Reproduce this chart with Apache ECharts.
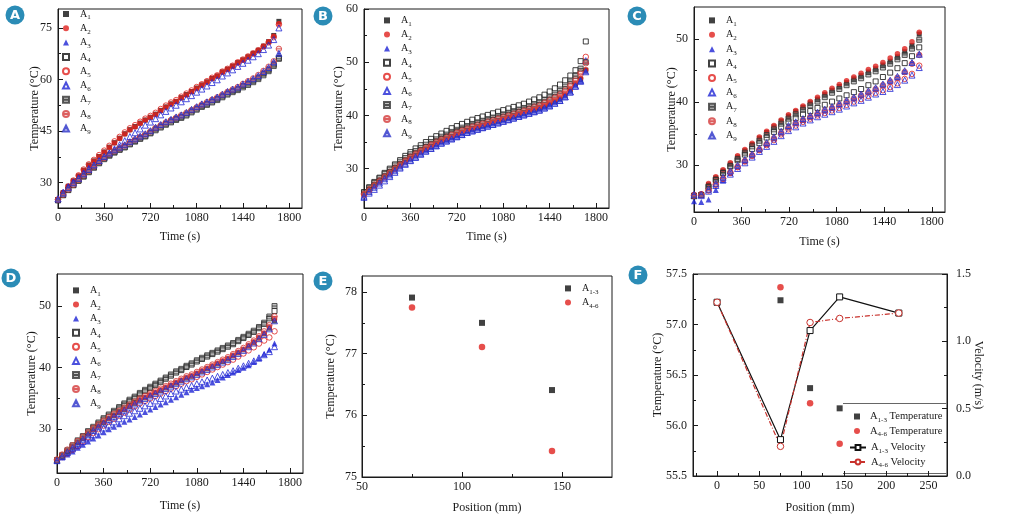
<!DOCTYPE html>
<html>
<head>
<meta charset="utf-8">
<script src="https://cdn.jsdelivr.net/npm/echarts@6.0.0/dist/echarts.min.js"></script>
<style>
  html, body { margin: 0; padding: 0; background: #fff; }
  #chart { width: 1015px; height: 518px; }
</style>
</head>
<body>
<div id="chart"></div>
<script>
// ---- data ----
var names = ['A1', 'A2', 'A3', 'A4', 'A5', 'A6', 'A7', 'A8', 'A9'];

var time40 = [0,40,80,120,160,200,240,280,320,360,400,440,480,520,560,600,640,680,720,760,800,840,880,920,960,1000,1040,1080,1120,1160,1200,1240,1280,1320,1360,1400,1440,1480,1520,1560,1600,1640,1680,1720];
var timeC = [0,55,110,165,220,275,330,385,440,495,550,605,660,715,770,825,880,935,990,1045,1100,1155,1210,1265,1320,1375,1430,1485,1540,1595,1650,1705];
var timeD = [0,40,80,120,160,200,240,280,320,360,400,440,480,520,560,600,640,680,720,760,800,840,880,920,960,1000,1040,1080,1120,1160,1200,1240,1280,1320,1360,1400,1440,1480,1520,1560,1600,1640,1680];

// panel A, one list per sensor A1..A9
var tempA = [
  [25.0,27.1,28.9,30.5,31.9,33.6,35.1,36.3,37.6,38.9,40.3,41.6,42.9,44.2,45.4,46.3,47.3,48.2,49.0,49.9,51.0,52.0,52.9,53.6,54.7,55.6,56.5,57.5,58.4,59.3,60.3,61.0,62.2,63.0,63.9,64.9,65.7,66.6,67.6,68.5,69.7,71.0,72.8,76.9],
  [25.1,27.0,28.8,30.4,31.9,33.5,35.0,36.2,37.5,38.8,40.2,41.5,42.8,44.1,45.3,46.2,47.2,48.1,48.9,49.8,50.9,51.9,52.8,53.6,54.6,55.5,56.4,57.4,58.3,59.2,60.2,61.0,62.1,62.9,63.8,64.8,65.6,66.5,67.5,68.4,69.6,70.9,72.6,76.2],
  [25.4,27.0,28.6,29.9,31.2,32.5,33.7,35.0,36.2,37.4,38.5,39.4,40.2,40.9,41.8,42.6,43.4,44.1,45.0,46.0,46.8,47.6,48.3,49.0,49.6,50.3,51.2,52.0,52.8,53.4,54.1,54.8,55.6,56.4,57.1,57.7,58.6,59.3,60.1,61.0,62.2,63.3,64.9,67.4],
  [24.9,26.4,27.9,29.3,30.6,31.9,33.2,34.5,35.8,37.0,38.0,38.9,39.7,40.4,41.3,42.1,42.9,43.6,44.5,45.5,46.3,47.1,47.8,48.5,49.1,49.8,50.7,51.5,52.3,52.9,53.6,54.3,55.1,55.9,56.6,57.2,58.1,58.8,59.6,60.5,61.7,62.8,64.3,66.2],
  [25.1,27.0,28.9,30.6,32.1,33.8,35.3,36.6,38.0,39.3,40.7,42.0,43.3,44.6,45.8,46.7,47.7,48.6,49.4,50.3,51.4,52.4,53.3,54.0,55.0,55.9,56.8,57.8,58.6,59.5,60.5,61.2,62.3,63.1,64.0,65.0,65.8,66.7,67.6,68.5,69.6,70.8,72.3,76.0],
  [25.3,27.2,28.8,30.2,31.4,32.8,34.1,35.1,36.3,37.4,38.6,39.8,41.0,42.2,43.4,44.5,45.6,46.7,47.6,48.6,49.7,50.7,51.7,52.5,53.5,54.4,55.3,56.3,57.2,58.1,59.1,59.9,61.0,61.9,62.8,63.8,64.7,65.6,66.6,67.5,68.7,70.0,71.6,75.0],
  [24.8,26.3,27.8,29.2,30.5,31.7,33.0,34.3,35.6,36.8,37.8,38.7,39.5,40.2,41.1,41.9,42.7,43.4,44.3,45.2,46.0,46.8,47.5,48.2,48.8,49.5,50.4,51.2,52.0,52.6,53.3,54.0,54.8,55.6,56.3,56.9,57.7,58.4,59.2,60.1,61.2,62.4,63.9,66.0],
  [25.0,26.5,28.0,29.4,30.8,32.1,33.4,34.7,36.0,37.2,38.3,39.2,40.0,40.8,41.7,42.5,43.3,44.0,44.9,45.9,46.7,47.5,48.2,48.9,49.6,50.3,51.1,51.9,52.7,53.4,54.1,54.8,55.6,56.4,57.1,57.8,58.7,59.5,60.3,61.3,62.5,63.7,65.3,68.9],
  [25.2,26.9,28.5,29.9,31.2,32.5,33.8,35.1,36.4,37.6,38.6,39.5,40.3,41.0,41.9,42.7,43.5,44.2,45.1,46.1,46.9,47.7,48.4,49.1,49.7,50.4,51.3,52.1,52.9,53.5,54.2,54.9,55.7,56.5,57.2,57.8,58.7,59.4,60.2,61.1,62.3,63.5,65.1,67.6]
];

var tempB = [
  [25.1,26.0,26.8,27.6,28.4,29.1,29.9,30.6,31.3,31.9,32.5,33.1,33.6,34.1,34.6,35.1,35.5,35.9,36.3,36.7,37.1,37.4,37.7,38.0,38.3,38.6,38.9,39.2,39.5,39.8,40.1,40.4,40.7,41.0,41.3,41.7,42.1,42.6,43.1,43.8,44.8,45.9,46.8,48.5],
  [25.3,26.2,27.0,27.8,28.6,29.3,30.1,30.8,31.5,32.1,32.7,33.3,33.8,34.3,34.8,35.3,35.7,36.1,36.5,36.9,37.3,37.6,37.9,38.2,38.5,38.8,39.1,39.4,39.7,40.0,40.3,40.6,40.9,41.2,41.5,41.9,42.3,42.8,43.3,44.0,44.9,46.0,47.0,48.6],
  [25.0,25.9,26.7,27.5,28.3,29.0,29.8,30.5,31.2,31.8,32.4,33.0,33.5,34.0,34.5,35.0,35.4,35.8,36.2,36.6,37.0,37.3,37.6,37.9,38.2,38.5,38.8,39.1,39.4,39.7,40.0,40.3,40.6,40.9,41.2,41.6,42.0,42.5,43.0,43.7,44.6,45.7,46.5,48.3],
  [25.6,26.5,27.5,28.3,29.2,30.0,30.8,31.6,32.4,33.1,33.8,34.4,35.0,35.6,36.1,36.6,37.1,37.6,38.0,38.4,38.8,39.2,39.5,39.8,40.1,40.4,40.7,41.0,41.3,41.6,41.9,42.2,42.6,43.0,43.4,43.9,44.5,45.1,45.8,46.6,47.5,48.5,50.2,53.9],
  [25.3,26.1,27.0,27.8,28.6,29.4,30.2,30.9,31.6,32.3,32.9,33.5,34.1,34.6,35.1,35.6,36.0,36.5,36.9,37.3,37.6,38.0,38.3,38.6,38.9,39.2,39.5,39.8,40.1,40.4,40.7,41.0,41.3,41.7,42.0,42.5,43.0,43.5,44.1,44.9,45.8,46.8,48.1,51.0],
  [24.6,25.4,26.1,26.9,27.7,28.5,29.3,30.1,30.8,31.5,32.1,32.7,33.3,33.8,34.3,34.8,35.2,35.6,36.0,36.4,36.8,37.1,37.4,37.7,38.0,38.3,38.6,38.9,39.2,39.5,39.8,40.1,40.4,40.7,41.0,41.4,41.8,42.3,42.8,43.5,44.4,45.5,46.6,50.3],
  [25.5,26.4,27.3,28.2,29.0,29.8,30.6,31.3,32.0,32.7,33.3,33.9,34.5,35.0,35.5,36.0,36.4,36.9,37.3,37.7,38.0,38.4,38.7,39.0,39.3,39.6,39.9,40.2,40.5,40.8,41.1,41.4,41.7,42.1,42.4,42.9,43.4,43.9,44.6,45.4,46.4,47.4,48.8,50.0],
  [25.1,25.9,26.8,27.6,28.4,29.2,30.0,30.7,31.4,32.1,32.7,33.3,33.9,34.4,34.9,35.4,35.8,36.3,36.7,37.1,37.4,37.8,38.1,38.4,38.7,39.0,39.3,39.6,39.9,40.2,40.5,40.8,41.1,41.5,41.8,42.3,42.8,43.3,43.9,44.6,45.5,46.5,47.8,49.8],
  [24.8,25.7,26.5,27.3,28.1,28.8,29.6,30.3,31.0,31.6,32.2,32.8,33.3,33.8,34.3,34.8,35.2,35.6,36.0,36.4,36.8,37.1,37.4,37.7,38.0,38.3,38.6,38.9,39.2,39.5,39.8,40.1,40.4,40.7,41.0,41.4,41.8,42.3,42.8,43.5,44.4,45.5,46.4,48.2]
];

var tempC = [
  [25.2,25.3,26.9,28.0,29.1,30.2,31.3,32.3,33.3,34.3,35.2,36.1,37.0,37.8,38.5,39.2,39.9,40.5,41.2,41.9,42.5,43.1,43.7,44.2,44.8,45.3,45.9,46.5,47.2,48.0,49.0,50.8],
  [25.3,25.5,27.1,28.2,29.3,30.4,31.5,32.5,33.5,34.5,35.4,36.3,37.2,38.0,38.7,39.4,40.1,40.8,41.5,42.2,42.8,43.4,44.0,44.6,45.2,45.7,46.3,47.0,47.7,48.5,49.6,51.1],
  [24.3,24.2,24.6,26.1,27.6,28.8,29.8,30.7,31.6,32.5,33.4,34.3,35.2,36.1,36.7,37.2,37.7,38.2,38.7,39.1,39.6,40.1,40.6,41.1,41.6,42.1,42.7,43.3,43.9,44.8,46.3,47.7],
  [25.2,25.3,26.6,27.7,28.8,29.8,30.8,31.7,32.6,33.5,34.4,35.3,36.1,36.9,37.5,38.1,38.6,39.1,39.6,40.1,40.6,41.1,41.6,42.1,42.7,43.3,44.0,44.7,45.4,46.2,47.3,48.7],
  [25.3,25.4,26.1,27.0,27.9,28.8,29.7,30.6,31.5,32.4,33.2,34.0,34.9,35.7,36.3,36.9,37.4,37.9,38.3,38.7,39.1,39.6,40.1,40.5,41.0,41.5,41.9,42.4,43.0,43.7,44.5,45.8],
  [25.2,25.2,25.9,26.8,27.7,28.6,29.5,30.4,31.3,32.2,33.0,33.8,34.7,35.5,36.1,36.7,37.2,37.7,38.1,38.5,38.9,39.4,39.9,40.3,40.8,41.3,41.7,42.2,42.8,43.5,44.3,45.5],
  [25.1,25.3,26.6,27.7,28.8,29.9,31.0,32.0,33.0,33.9,34.8,35.7,36.6,37.4,38.1,38.8,39.5,40.1,40.8,41.5,42.1,42.7,43.3,43.8,44.4,44.9,45.5,46.1,46.8,47.5,48.5,49.9],
  [25.2,25.3,26.0,26.9,27.9,28.9,29.8,30.7,31.6,32.5,33.4,34.3,35.2,36.0,36.7,37.2,37.7,38.2,38.7,39.1,39.6,40.1,40.6,41.1,41.6,42.1,42.7,43.3,43.9,44.8,46.1,47.5],
  [25.4,25.4,26.2,27.1,28.1,29.1,30.0,30.9,31.8,32.7,33.6,34.5,35.4,36.3,36.9,37.4,37.9,38.4,38.9,39.3,39.8,40.3,40.8,41.3,41.8,42.3,42.9,43.5,44.1,45.0,46.3,47.6]
];

var tempD = [
  [25.0,25.7,26.4,27.1,27.8,28.5,29.2,29.9,30.5,31.1,31.7,32.2,32.7,33.2,33.7,34.2,34.7,35.1,35.5,35.9,36.3,36.7,37.1,37.5,37.9,38.3,38.6,39.0,39.4,39.8,40.2,40.6,41.0,41.4,41.9,42.4,42.9,43.5,44.1,44.8,45.5,46.4,47.6],
  [25.1,25.8,26.5,27.2,27.9,28.6,29.3,30.0,30.6,31.2,31.8,32.3,32.8,33.3,33.8,34.3,34.8,35.2,35.6,36.0,36.4,36.8,37.2,37.6,38.0,38.4,38.7,39.1,39.5,39.9,40.3,40.7,41.1,41.5,42.0,42.5,43.0,43.6,44.2,44.9,45.6,46.6,47.9],
  [24.9,25.4,25.9,26.4,27.0,27.5,28.0,28.5,29.0,29.5,30.0,30.4,30.8,31.2,31.6,32.0,32.4,32.8,33.2,33.6,34.0,34.4,34.8,35.2,35.6,36.0,36.4,36.7,37.0,37.3,37.6,38.0,38.4,38.8,39.2,39.6,40.0,40.4,40.9,41.5,42.2,42.9,43.9],
  [24.9,25.6,26.4,27.2,28.0,28.7,29.5,30.2,30.9,31.6,32.2,32.8,33.4,34.0,34.6,35.1,35.7,36.2,36.7,37.2,37.7,38.2,38.7,39.2,39.6,40.1,40.5,41.0,41.4,41.8,42.2,42.6,43.0,43.4,43.8,44.3,44.8,45.3,45.8,46.4,47.1,48.0,49.2],
  [25.0,25.5,26.1,26.7,27.3,28.0,28.7,29.4,30.0,30.6,31.2,31.7,32.2,32.7,33.2,33.7,34.2,34.6,35.0,35.4,35.8,36.2,36.6,37.0,37.4,37.8,38.1,38.5,38.9,39.3,39.7,40.1,40.5,40.9,41.3,41.8,42.3,42.8,43.3,43.9,44.4,44.9,45.9],
  [25.0,25.6,26.2,26.8,27.4,28.0,28.6,29.1,29.7,30.2,30.7,31.2,31.7,32.2,32.6,33.0,33.4,33.8,34.2,34.6,35.0,35.4,35.8,36.2,36.5,36.8,37.1,37.4,37.7,38.0,38.3,38.6,38.9,39.2,39.5,39.9,40.3,40.7,41.1,41.6,42.1,42.6,43.4],
  [25.0,25.8,26.6,27.4,28.2,28.9,29.7,30.4,31.1,31.8,32.4,33.0,33.6,34.2,34.8,35.3,35.9,36.4,36.9,37.4,37.9,38.4,38.9,39.4,39.8,40.3,40.7,41.2,41.6,42.0,42.4,42.8,43.2,43.6,44.0,44.5,45.0,45.5,46.0,46.6,47.3,48.3,50.0],
  [25.1,25.9,26.7,27.4,28.1,28.8,29.5,30.2,30.8,31.4,32.0,32.5,33.0,33.5,34.0,34.5,35.0,35.4,35.8,36.2,36.6,37.0,37.4,37.8,38.2,38.6,38.9,39.3,39.7,40.1,40.5,40.9,41.3,41.7,42.2,42.7,43.2,43.8,44.4,45.1,45.9,46.9,48.3],
  [24.9,25.6,26.3,27.0,27.7,28.4,29.1,29.8,30.4,31.0,31.6,32.1,32.6,33.1,33.6,34.1,34.6,35.0,35.4,35.8,36.2,36.6,37.0,37.4,37.8,38.2,38.5,38.9,39.3,39.7,40.1,40.5,40.9,41.3,41.8,42.3,42.8,43.4,44.0,44.7,45.4,46.3,47.6]
];

// panel E
var posE = [75, 110, 145];
var tempE13 = [77.91, 77.50, 76.41];
var tempE46 = [77.75, 77.11, 75.42];

// panel F
var posFT = [75, 110, 145];
var tempF13 = [57.24, 56.37, 56.17];
var tempF46 = [57.37, 56.22, 55.82];
var posFV = [0, 75, 110, 145, 215];
var velF13 = [1.29, 0.27, 1.08, 1.33, 1.21];
var velF46 = [1.29, 0.22, 1.14, 1.17, 1.21];

// ---- styles ----
var FONT = '"Liberation Serif", "Times New Roman", serif';
var INK = '#1a1a1a';
var RED = '#e0221e', BLUE = '#1e24d4', BLACK = '#111';
var markers = [
  { symbol: 'rect', size: 5, color: BLACK, filled: true },
  { symbol: 'circle', size: 5.5, color: RED, filled: true },
  { symbol: 'triangle', size: 6, color: BLUE, filled: true },
  { symbol: 'rect', size: 5, color: BLACK },
  { symbol: 'circle', size: 5.5, color: RED },
  { symbol: 'triangle', size: 6, color: BLUE },
  { symbol: 'path://M0,0H10V10H0ZM0,5H10', size: 5, color: '#333', fill: 'rgba(120,120,120,0.55)' },
  { symbol: 'path://M0,5A5,5,0,1,1,10,5A5,5,0,1,1,0,5ZM0,5H10', size: 5.5, color: '#d43c3c', fill: 'rgba(230,140,140,0.3)' },
  { symbol: 'path://M5,0L10,10H0ZM2.5,5H7.5', size: 6, color: '#2a32c8', fill: 'rgba(140,140,230,0.3)' }
];

var option = {
  animation: false,
  backgroundColor: '#fff',
  grid: [], xAxis: [], yAxis: [], series: [], legend: [], graphic: []
};

function majorAxis(gi, s) {
  return {
    type: 'value', gridIndex: gi, position: s.pos, min: s.min, max: s.max,
    axisLine: { onZero: false, lineStyle: { color: INK, width: 1 } },
    axisTick: { inside: true, length: 5, customValues: s.major, lineStyle: { color: INK, width: 1 } },
    axisLabel: { customValues: s.major, margin: s.margin, formatter: s.fmt || function (v) { return String(v); },
                 fontFamily: FONT, fontSize: 12, color: INK },
    splitLine: { show: false },
    name: s.name, nameLocation: 'middle', nameGap: s.gap, nameRotate: s.rot || 0, nameMoveOverlap: false,
    nameTextStyle: { fontFamily: FONT, fontSize: 12, color: INK }
  };
}
function minorAxis(gi, s) {
  return {
    type: 'value', gridIndex: gi, position: s.pos, min: s.min, max: s.max,
    axisLine: { show: false, onZero: false },
    axisTick: { inside: true, length: 3, customValues: s.minor, lineStyle: { color: INK, width: 1 } },
    axisLabel: { show: false }, splitLine: { show: false }
  };
}
function addAxis(list, gi, s) {
  var idx = list.length;
  list.push(majorAxis(gi, s), minorAxis(gi, s));
  return idx;
}
function addGrid(g) {
  option.grid.push({ left: g[0], top: g[1], width: g[2], height: g[3], show: true,
                     borderColor: INK, borderWidth: 1, containLabel: false });
  return option.grid.length - 1;
}
function pairs(xs, ys) {
  return xs.map(function (x, i) { return [x, ys[i]]; });
}
// legend text "A" with a subscript; pad = extra space between icon and text
function legendBox(data, left, top, gap, itemWidth, pad, size) {
  var lead = pad ? '{p| }' : '';
  var fs = size || 10;
  return {
    orient: 'vertical', left: left, top: top, padding: 0, itemGap: gap,
    itemWidth: itemWidth, itemHeight: 6, selectedMode: false, data: data,
    formatter: function (name) {
      var m = name.match(/^A([0-9-]+)(.*)$/);
      return lead + '{a|A}{s|' + m[1] + '}' + (m[2] ? '{a|' + m[2] + '}' : '');
    },
    textStyle: { fontFamily: FONT, fontSize: fs, color: INK,
      rich: { p: { width: pad || 0, fontSize: fs, lineHeight: 14 },
              a: { fontFamily: FONT, fontSize: fs, lineHeight: 14, color: INK },
              s: { fontFamily: FONT, fontSize: 7, lineHeight: 8, verticalAlign: 'bottom', color: INK } } }
  };
}

var timeAxis = { min: 0, max: 1900, major: [0, 360, 720, 1080, 1440, 1800], minor: [180, 540, 900, 1260, 1620],
                 name: 'Time (s)', pos: 'bottom', margin: 4 };

function timePanel(g, times, temps, ySpec, xGap, leg) {
  var gi = addGrid(g);
  var xi = addAxis(option.xAxis, gi, Object.assign({}, timeAxis, { gap: xGap }));
  var yi = addAxis(option.yAxis, gi, Object.assign({ pos: 'left', margin: 6, name: 'Temperature (°C)', rot: 90 }, ySpec));
  temps.forEach(function (vals, k) {
    var m = markers[k];
    option.series.push({
      type: 'scatter', name: names[k], xAxisIndex: xi, yAxisIndex: yi,
      symbol: m.symbol, symbolSize: m.size,
      itemStyle: m.filled ? { color: m.color }
                          : { color: m.fill || 'rgba(255,255,255,0)', borderColor: m.color, borderWidth: 1 },
      data: pairs(times, vals)
    });
  });
  // leg: [icon centre x, top, gap]
  option.legend.push(legendBox(names, leg[0] - 3, leg[1], leg[2], 6, 6));
}

// A
timePanel([58, 9, 244, 199], time40, tempA,
  { min: 22.6, max: 80.5, major: [30, 45, 60, 75], minor: [37.5, 52.5, 67.5], gap: 17 }, 23, [65, 9, 2.3]);
// B
timePanel([364, 9, 245, 199], time40, tempB,
  { min: 22.6, max: 60, major: [30, 40, 50, 60], minor: [25, 35, 45, 55], gap: 19 }, 23, [386, 15.4, 2.1]);
// C
timePanel([694, 7, 251, 205], timeC, tempC,
  { min: 22.6, max: 55.1, major: [30, 40, 50], minor: [25, 35, 45], gap: 16.5 }, 24, [711, 15.4, 2.4]);
// D
timePanel([57, 274, 246, 199], timeD, tempD,
  { min: 22.9, max: 55.2, major: [30, 40, 50], minor: [25, 35, 45], gap: 19 }, 27, [75, 285.4, 2.1]);

// E
(function () {
  var gi = addGrid([362, 276, 250, 201]);
  var xi = addAxis(option.xAxis, gi, { min: 50, max: 175, major: [50, 100, 150], minor: [75, 125],
    name: 'Position (mm)', pos: 'bottom', margin: 4, gap: 25 });
  var yi = addAxis(option.yAxis, gi, { min: 75, max: 78.26, major: [75, 76, 77, 78], minor: [75.5, 76.5, 77.5],
    name: 'Temperature (°C)', pos: 'left', margin: 5, gap: 25, rot: 90 });
  option.series.push(
    { type: 'scatter', name: 'A1-3', xAxisIndex: xi, yAxisIndex: yi, symbol: 'rect', symbolSize: 6,
      itemStyle: { color: BLACK }, data: pairs(posE, tempE13) },
    { type: 'scatter', name: 'A4-6', xAxisIndex: xi, yAxisIndex: yi, symbol: 'circle', symbolSize: 6.5,
      itemStyle: { color: RED }, data: pairs(posE, tempE46) });
  option.legend.push(legendBox(['A1-3', 'A4-6'], 565, 283.4, 2, 6, 6));
})();

// F
(function () {
  var gi = addGrid([693, 274, 254, 202]);
  var xi = addAxis(option.xAxis, gi, { min: -28.5, max: 272, major: [0, 50, 100, 150, 200, 250],
    minor: [-25, 25, 75, 125, 175, 225], name: 'Position (mm)', pos: 'bottom', margin: 4, gap: 26 });
  var one = function (v) { return v.toFixed(1); };
  var yl = addAxis(option.yAxis, gi, { min: 55.5, max: 57.5, major: [55.5, 56, 56.5, 57, 57.5],
    minor: [55.75, 56.25, 56.75, 57.25], name: 'Temperature (°C)', pos: 'left', margin: 6, gap: 29, rot: 90, fmt: one });
  var yr = addAxis(option.yAxis, gi, { min: 0, max: 1.5, major: [0, 0.5, 1, 1.5], minor: [0.25, 0.75, 1.25],
    name: 'Velocity (m/s)', pos: 'right', margin: 9, gap: 25, rot: -90, fmt: one });
  option.series.push(
    { type: 'scatter', name: 'A1-3 Temperature', xAxisIndex: xi, yAxisIndex: yl, symbol: 'rect', symbolSize: 6,
      itemStyle: { color: BLACK }, data: pairs(posFT, tempF13) },
    { type: 'scatter', name: 'A4-6 Temperature', xAxisIndex: xi, yAxisIndex: yl, symbol: 'circle', symbolSize: 6.5,
      itemStyle: { color: RED }, data: pairs(posFT, tempF46) },
    { type: 'line', name: 'A1-3 Velocity', xAxisIndex: xi, yAxisIndex: yr, symbol: 'rect', symbolSize: 6,
      showAllSymbol: true, lineStyle: { color: BLACK, width: 1.2 },
      itemStyle: { color: '#fff', borderColor: BLACK, borderWidth: 1 }, data: pairs(posFV, velF13) },
    { type: 'line', name: 'A4-6 Velocity', xAxisIndex: xi, yAxisIndex: yr, symbol: 'circle', symbolSize: 6.5,
      showAllSymbol: true, lineStyle: { color: '#c8322d', width: 1.2, type: [5, 2, 1, 2] },
      itemStyle: { color: '#fff', borderColor: '#c8322d', borderWidth: 1 }, data: pairs(posFV, velF46) });
  option.legend.push(legendBox(['A1-3 Temperature', 'A4-6 Temperature'], 854, 411, 2, 6, 5, 10.5));
  option.legend.push(legendBox(['A1-3 Velocity', 'A4-6 Velocity'], 849, 442, 2, 16, 0, 10.5));
})();

// legend frame lines in F and panel badges
option.graphic.push(
  { type: 'line', shape: { x1: 843, y1: 403.5, x2: 946.5, y2: 403.5 }, style: { stroke: '#666', lineWidth: 1 } },
  { type: 'line', shape: { x1: 843, y1: 473.5, x2: 946.5, y2: 473.5 }, style: { stroke: '#666', lineWidth: 1 } }
);
[['A', 15, 15], ['B', 323, 16], ['C', 637, 16], ['D', 11, 278], ['E', 323, 281], ['F', 638, 275]].forEach(function (b) {
  option.graphic.push(
    { type: 'circle', shape: { cx: b[1], cy: b[2], r: 9.5 }, style: { fill: '#2b8cb6' }, z: 100 },
    { type: 'text', x: b[1], y: b[2] + 0.5, z: 101,
      style: { text: b[0], fill: '#fff', font: 'bold 13px "DejaVu Sans", Arial, sans-serif',
               align: 'center', verticalAlign: 'middle' } }
  );
});

var myChart = echarts.init(document.getElementById('chart'));
myChart.setOption(option);
</script>
</body>
</html>
